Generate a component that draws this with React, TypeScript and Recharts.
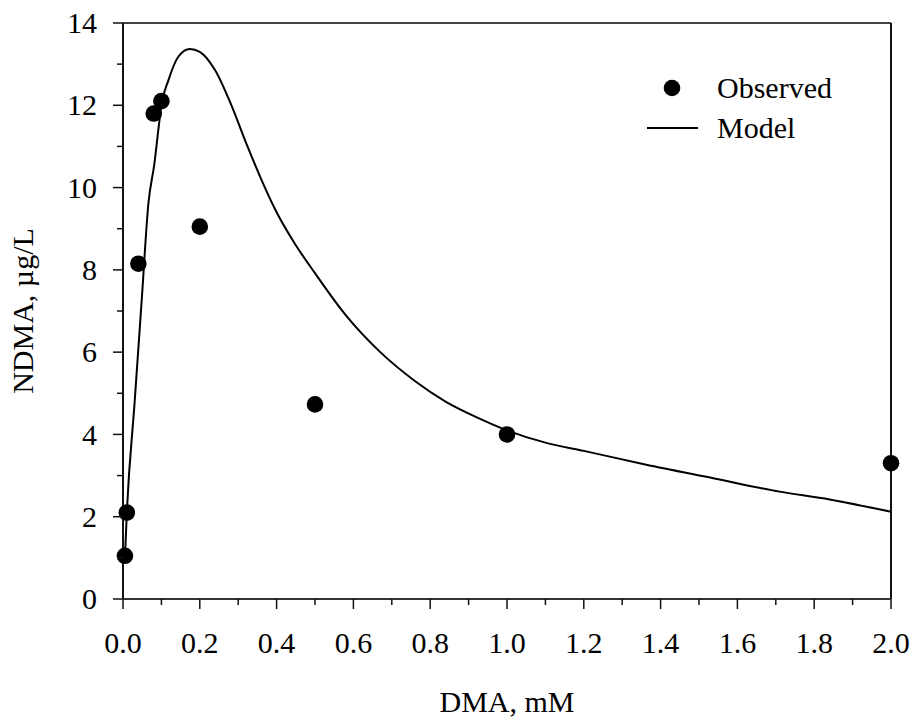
import React from 'react'
import { ComposedChart, Line, Scatter, XAxis, YAxis, ReferenceLine } from 'recharts'

// observed NDMA vs DMA dose
const obsX = [0.005, 0.01, 0.04, 0.08, 0.1, 0.2, 0.5, 1.0, 2.0]
const obsY = [1.05, 2.1, 8.15, 11.8, 12.1, 9.05, 4.73, 4.0, 3.3]

// model curve
const modelX = [0.005, 0.01, 0.03, 0.049, 0.066, 0.082, 0.092, 0.1, 0.118, 0.144, 0.174, 0.2, 0.24, 0.28, 0.32, 0.36, 0.4, 0.45, 0.5, 0.58, 0.67, 0.76, 0.84, 0.93, 1.0, 1.1, 1.2, 1.36, 1.54, 1.71, 1.84, 2.0]
const modelY = [1.0, 2.1, 4.75, 7.3, 9.6, 10.6, 11.4, 12.0, 12.6, 13.18, 13.37, 13.3, 12.85, 12.05, 11.1, 10.2, 9.4, 8.6, 7.92, 6.9, 6.0, 5.3, 4.8, 4.38, 4.1, 3.8, 3.6, 3.27, 2.93, 2.61, 2.42, 2.12]

const xTicks = [0, 0.1, 0.2, 0.3, 0.4, 0.5, 0.6, 0.7, 0.8, 0.9, 1.0, 1.1, 1.2, 1.3, 1.4, 1.5, 1.6, 1.7, 1.8, 1.9, 2.0]
const yTicks = [0, 1, 2, 3, 4, 5, 6, 7, 8, 9, 10, 11, 12, 13, 14]

const font = '"Liberation Serif", "Times New Roman", serif'
const ink = '#111'

const observed = obsX.map((x, i) => ({ x, y: obsY[i] }))
const model = modelX.map((x, i) => ({ x, y: modelY[i] }))

const XTick = (p: any) => {
  const v = p.payload.value
  const major = Math.round(v * 10) % 2 === 0
  return (
    <g>
      <line x1={p.x} x2={p.x} y1={p.y} y2={p.y + (major ? 10 : 6)} stroke={ink} strokeWidth={1.5} />
      {major && (
        <text x={p.x} y={p.y + 54} textAnchor="middle" fontFamily={font} fontSize={30} fill="#000">
          {v.toFixed(1)}
        </text>
      )}
    </g>
  )
}

const YTick = (p: any) => {
  const v = p.payload.value
  const major = v % 2 === 0
  return (
    <g>
      <line x1={p.x} x2={p.x - (major ? 10 : 6)} y1={p.y} y2={p.y} stroke={ink} strokeWidth={1.5} />
      {major && (
        <text x={p.x - 26} y={p.y} dy="0.34em" textAnchor="end" fontFamily={font} fontSize={30} fill="#000">
          {v}
        </text>
      )}
    </g>
  )
}

const Dot = (p: any) => <circle cx={p.cx} cy={p.cy} r={8.3} fill="#000" />

export default function App() {
  return (
    <div style={{ position: 'absolute', left: 0, top: 0, width: 914, height: 721, background: '#fff' }}>
      <ComposedChart width={914} height={721} margin={{ top: 23, right: 23, left: 0, bottom: 0 }}>
        <XAxis
          dataKey="x" type="number" domain={[0, 2]} ticks={xTicks} interval={0}
          height={122} tickSize={0} tickMargin={0} tick={<XTick />}
          axisLine={{ stroke: '#333', strokeWidth: 2 }}
          label={{
            content: (lp: any) => (
              <text x={lp.viewBox.x + lp.viewBox.width / 2} y={712} textAnchor="middle" fontFamily={font} fontSize={30} fill="#000">
                DMA, mM
              </text>
            ),
          }}
        />
        <YAxis
          type="number" domain={[0, 14]} ticks={yTicks} interval={0}
          width={123} tickSize={0} tickMargin={0} tick={<YTick />}
          axisLine={{ stroke: ink, strokeWidth: 2 }}
          label={{
            content: (lp: any) => {
              const cy = lp.viewBox.y + lp.viewBox.height / 2
              return (
                <text x={33} y={cy} transform={`rotate(-90, 33, ${cy})`} textAnchor="middle" fontFamily={font} fontSize={30} fill="#000">
                  NDMA, µg/L
                </text>
              )
            },
          }}
        />
        <ReferenceLine y={14} stroke="#444" strokeWidth={2} />
        <ReferenceLine x={2} stroke={ink} strokeWidth={2} />
        <Line data={model} dataKey="y" type="monotone" stroke="#000" strokeWidth={2} dot={false} isAnimationActive={false} />
        <Scatter data={observed} dataKey="y" shape={<Dot />} isAnimationActive={false} />
      </ComposedChart>
      <svg width={914} height={721} style={{ position: 'absolute', left: 0, top: 0, pointerEvents: 'none' }}>
        <circle cx={672} cy={88} r={8.3} fill="#000" />
        <text x={717} y={88} dy="0.34em" fontFamily={font} fontSize={30} fill="#000">Observed</text>
        <line x1={647} x2={698} y1={128} y2={128} stroke="#000" strokeWidth={2} />
        <text x={717} y={128} dy="0.34em" fontFamily={font} fontSize={30} fill="#000">Model</text>
      </svg>
    </div>
  )
}
